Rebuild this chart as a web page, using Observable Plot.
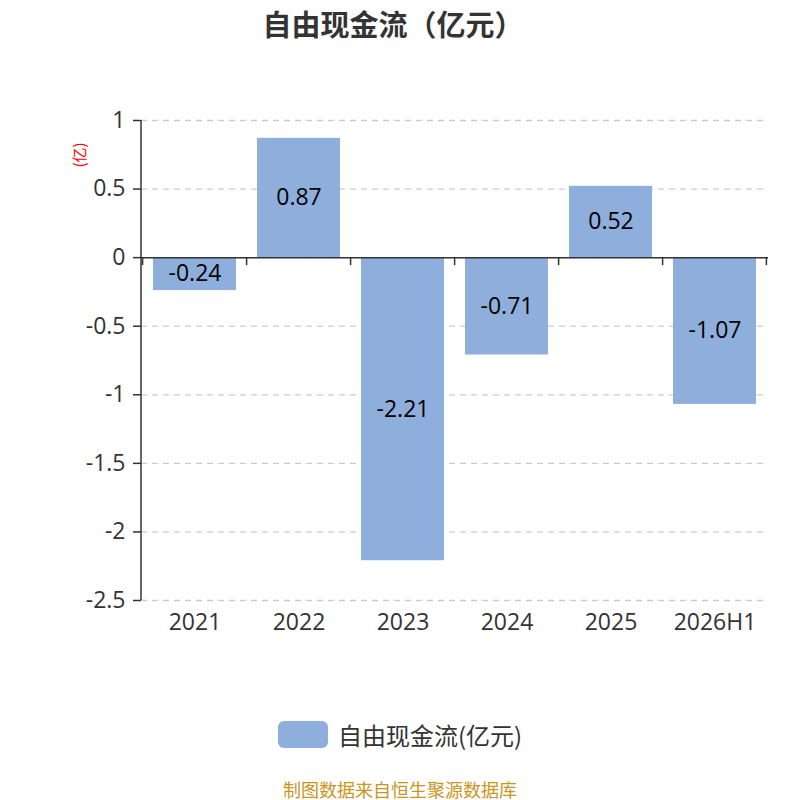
<!DOCTYPE html>
<html>
<head>
<meta charset="utf-8">
<script src="https://cdn.jsdelivr.net/npm/d3@7"></script>
<script src="https://cdn.jsdelivr.net/npm/@observablehq/plot@0.6"></script>
<style>
  body { margin: 0; background: #fff; }
  #wrap { position: relative; width: 800px; height: 800px; overflow: hidden; font-family: "Open Sans", "Noto Sans CJK SC", sans-serif; }
  #title { position: absolute; top: 2px; left: 0; width: 786px; text-align: center; font-size: 29px; font-weight: bold; color: #333; font-family: "Noto Sans CJK SC", sans-serif; }
  #chart { position: absolute; top: 0; left: 0; }
  #legend { position: absolute; top: 717px; left: 278px; display: flex; align-items: center; font-size: 24px; color: #333; font-family: "Noto Sans CJK SC", sans-serif; }
  #legend .sw { width: 50px; height: 27px; background: #8eaedb; border-radius: 6px; margin-right: 10px; }
  #footer { position: absolute; top: 780px; left: 0; width: 800px; line-height: 18px; text-align: center; font-size: 18px; color: #c8961e; font-family: "Noto Sans CJK SC", sans-serif; }
</style>
</head>
<body>
<div id="wrap">
  <div id="title">自由现金流（亿元）</div>
  <div id="chart"></div>
  <div id="legend"><div class="sw"></div><span>自由现金流(亿元)</span></div>
  <div id="footer">制图数据来自恒生聚源数据库</div>
</div>
<script>
const categories = ["2021", "2022", "2023", "2024", "2025", "2026H1"];
const values = [-0.24, 0.87, -2.21, -0.71, 0.52, -1.07];
const yTicks = [1, 0.5, 0, -0.5, -1, -1.5, -2, -2.5];

const data = categories.map((c, i) => ({ cat: c, v: values[i] }));
const color = "#8eaedb";
const font = '"Open Sans", "Noto Sans CJK SC", sans-serif';

const chart = Plot.plot({
  width: 800,
  height: 800,
  marginTop: 120,
  marginBottom: 200,
  marginLeft: 141,
  marginRight: 32,
  style: { fontFamily: font, background: "transparent" },
  x: { domain: categories, paddingInner: 0.2, paddingOuter: 0.1, axis: null, label: null },
  y: { domain: [-2.5, 1], ticks: yTicks, axis: null, label: null },
  marks: [
    Plot.gridY(yTicks, { stroke: "#ccc", strokeOpacity: 1, strokeDasharray: "6,5", strokeWidth: 1.3 }),
    Plot.barY(data, { x: "cat", y: "v", fill: color }),
    Plot.ruleY([0], { stroke: "#333", strokeWidth: 1.5 }),
    Plot.axisY(yTicks, { anchor: "left", label: null, tickSize: 8, tickPadding: 8, fontSize: 23, fill: "#333", stroke: "#333", strokeWidth: 1.5, tickFormat: d => String(d) }),
    Plot.axisX({ anchor: "bottom", label: null, tickSize: 0, tickPadding: 13, fontSize: 23, fill: "#333" }),
    Plot.text(data, { x: "cat", y: d => d.v / 2, text: d => d.v.toFixed(2), fontSize: 23, fill: "#000" })
  ]
});

// Vertical y-axis line and category boundary ticks on the zero line
const svg = d3.select(chart);
const xs = chart.scale("x"), ys = chart.scale("y");
const step = xs.step;
const y0 = ys.apply(0);
const g = svg.append("g").attr("stroke", "#333").attr("stroke-width", 1.5);
g.append("line")
  .attr("x1", 141).attr("x2", 141)
  .attr("y1", ys.apply(1)).attr("y2", ys.apply(-2.5));
const bounds = categories.map(c => xs.apply(c) - step * 0.1).concat([xs.apply(categories[categories.length - 1]) + xs.bandwidth + step * 0.1]);
bounds.forEach(b => {
  g.append("line").attr("x1", b).attr("x2", b).attr("y1", y0).attr("y2", y0 + 8);
});
// small red unit label
svg.append("text")
  .attr("transform", `translate(85,155) rotate(-90)`)
  .attr("text-anchor", "middle")
  .attr("fill", "red")
  .attr("font-size", 15)
  .attr("font-family", '"Noto Sans CJK SC", sans-serif')
  .text("(亿)");

document.getElementById("chart").appendChild(chart);
</script>
</body>
</html>
